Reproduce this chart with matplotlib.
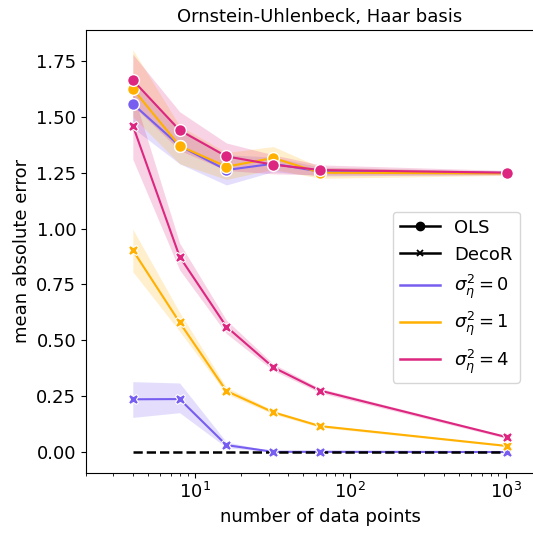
import numpy as np
import matplotlib.pyplot as plt
from matplotlib.lines import Line2D

# number of data points
n_points = [4, 8, 16, 32, 64, 1024]

# OLS mean absolute error (and CI bands)
ols_s0 = [1.558, 1.37, 1.262, 1.29, 1.255, 1.249]
ols_s0_lo = [1.45, 1.29, 1.195, 1.255, 1.235, 1.242]
ols_s0_hi = [1.66, 1.45, 1.33, 1.32, 1.275, 1.256]

ols_s1 = [1.625, 1.37, 1.277, 1.316, 1.25, 1.247]
ols_s1_lo = [1.50, 1.29, 1.22, 1.265, 1.225, 1.238]
ols_s1_hi = [1.80, 1.46, 1.34, 1.367, 1.275, 1.256]

ols_s4 = [1.664, 1.44, 1.323, 1.286, 1.262, 1.250]
ols_s4_lo = [1.55, 1.35, 1.26, 1.245, 1.24, 1.240]
ols_s4_hi = [1.78, 1.523, 1.383, 1.33, 1.285, 1.260]

# DecoR mean absolute error (and CI bands)
decor_s0 = [0.236, 0.237, 0.031, 0.001, 0.001, 0.0]
decor_s0_lo = [0.155, 0.176, 0.02, 0.0, 0.0, 0.0]
decor_s0_hi = [0.315, 0.309, 0.045, 0.003, 0.002, 0.001]

decor_s1 = [0.903, 0.580, 0.273, 0.178, 0.116, 0.027]
decor_s1_lo = [0.807, 0.54, 0.26, 0.17, 0.11, 0.024]
decor_s1_hi = [0.997, 0.625, 0.29, 0.186, 0.122, 0.030]

decor_s4 = [1.461, 0.874, 0.561, 0.379, 0.275, 0.066]
decor_s4_lo = [1.31, 0.815, 0.53, 0.365, 0.265, 0.060]
decor_s4_hi = [1.61, 0.935, 0.59, 0.395, 0.285, 0.072]

baseline = [0, 0, 0, 0, 0, 0]

labels = [r'$\sigma_\eta^2 = 0$', r'$\sigma_\eta^2 = 1$', r'$\sigma_\eta^2 = 4$']
colors = ['#785EF0', '#FFB000', '#DC267F']

fig = plt.figure(figsize=(5.33, 5.34), dpi=100)
ax = fig.add_axes([0.1614, 0.115, 0.878, 0.829])

ols = [(ols_s0, ols_s0_lo, ols_s0_hi), (ols_s1, ols_s1_lo, ols_s1_hi), (ols_s4, ols_s4_lo, ols_s4_hi)]
decor = [(decor_s0, decor_s0_lo, decor_s0_hi), (decor_s1, decor_s1_lo, decor_s1_hi),
         (decor_s4, decor_s4_lo, decor_s4_hi)]

for (m, lo, hi), c in zip(ols, colors):
    ax.fill_between(n_points, lo, hi, color=c, alpha=0.2, lw=0)
    ax.plot(n_points, m, color=c, lw=1.5, marker='o', ms=8.5, mec='white', mew=1, zorder=3)

for (m, lo, hi), c in zip(decor, colors):
    ax.fill_between(n_points, lo, hi, color=c, alpha=0.2, lw=0)
    ax.plot(n_points, m, color=c, lw=1.5, zorder=2)

ax.plot(n_points, baseline, color='black', ls='--', lw=1.8, zorder=2.5)

for (m, lo, hi), c in zip(decor, colors):
    ax.plot(n_points, m, color=c, lw=0, marker='X', ms=7.5, mec='white', mew=0.8, zorder=3)

ax.set_xscale('log')
ax.set_xlim(2, 2048)
ax.set_ylim(-0.092, 1.889)
ax.set_yticks([0, 0.25, 0.5, 0.75, 1.0, 1.25, 1.5, 1.75])
ax.tick_params(labelsize=13)
ax.set_xlabel('number of data points', fontsize=13)
ax.set_ylabel('mean absolute error', fontsize=13)
ax.set_title('Ornstein-Uhlenbeck, Haar basis', fontsize=13)

handles = [Line2D([], [], color='black', marker='o', ms=6, lw=1.8),
           Line2D([], [], color='black', marker='x', ms=4.5, mew=1.3, lw=1.8)]
handles += [Line2D([], [], color=c, lw=1.8) for c in colors]
ax.legend(handles, ['OLS', 'DecoR'] + labels, loc='center left',
          bbox_to_anchor=(0.636, 0.396), fontsize=13, handlelength=2.2)

fig.savefig('out.png', dpi=100)
